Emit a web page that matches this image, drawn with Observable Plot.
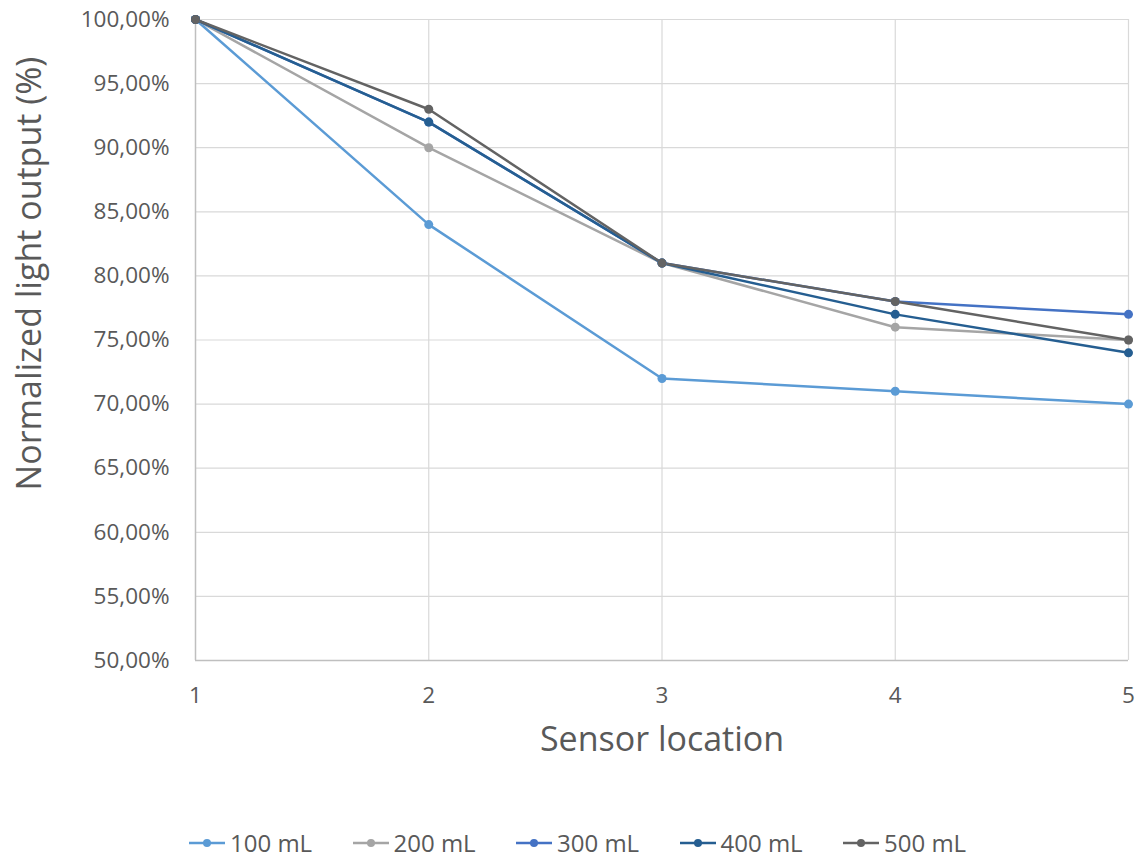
<!DOCTYPE html>
<html>
<head>
<meta charset="utf-8">
<script src="https://cdn.jsdelivr.net/npm/d3@7"></script>
<script src="https://cdn.jsdelivr.net/npm/@observablehq/plot@0.6"></script>
<style>
  html, body { margin: 0; padding: 0; background: #fff; }
  body { width: 1142px; height: 859px; overflow: hidden; font-family: "Open Sans", sans-serif; position: relative; }
  #chart svg { display: block; }
  #legend { position: absolute; left: 0; top: 829px; width: 1142px; height: 28px; font-size: 24px; line-height: 28px; color: #595959; }
  #legend .item { position: absolute; top: 0; height: 28px; display: flex; align-items: center; gap: 5px; white-space: nowrap; }
</style>
</head>
<body>
<div id="chart"></div>
<div id="legend"></div>
<script>
const locations = [1, 2, 3, 4, 5];
const seriesNames = ["100 mL", "200 mL", "300 mL", "400 mL", "500 mL"];
const v100 = [1.00, 0.84, 0.72, 0.71, 0.70];
const v200 = [1.00, 0.90, 0.81, 0.76, 0.75];
const v300 = [1.00, 0.92, 0.81, 0.78, 0.77];
const v400 = [1.00, 0.92, 0.81, 0.77, 0.74];
const v500 = [1.00, 0.93, 0.81, 0.78, 0.75];
const colors = ["#5B9BD5", "#A5A5A5", "#4472C4", "#255E91", "#636363"];
const yTicks = [0.50, 0.55, 0.60, 0.65, 0.70, 0.75, 0.80, 0.85, 0.90, 0.95, 1.00];

const allValues = [v100, v200, v300, v400, v500];
const data = [];
seriesNames.forEach((s, i) => {
  locations.forEach((x, j) => data.push({series: s, x, y: allValues[i][j]}));
});

const fmt = d => (d * 100).toFixed(2).replace(".", ",") + "%";
const textColor = "#595959";

const chart = Plot.plot({
  width: 1142,
  height: 828,
  marginLeft: 195,
  marginRight: 14,
  marginTop: 19,
  marginBottom: 168,
  style: { fontFamily: "Open Sans, sans-serif", background: "#fff" },
  x: { domain: [1, 5] },
  y: { domain: [0.5, 1] },
  color: { domain: seriesNames, range: colors },
  marks: [
    Plot.gridY(yTicks, { stroke: "#d9d9d9", strokeOpacity: 1, strokeWidth: 1.2 }),
    Plot.gridX([2, 3, 4, 5], { stroke: "#d9d9d9", strokeOpacity: 1, strokeWidth: 1.2 }),
    Plot.ruleX([1], { stroke: "#bfbfbf", strokeWidth: 1.5 }),
    Plot.ruleY([0.5], { stroke: "#bfbfbf", strokeWidth: 1.5 }),
    Plot.axisY(yTicks, { tickSize: 0, tickPadding: 26, tickFormat: fmt, fontSize: 22.5, fill: textColor, label: null }),
    Plot.axisX(locations, { tickSize: 0, tickPadding: 27, tickFormat: d => String(d), fontSize: 22.5, fill: textColor, label: null }),
    Plot.text(["Normalized light output (%)"], { frameAnchor: "top-left", textAnchor: "middle", lineAnchor: "middle", dx: -165, dy: 254, rotate: -90, fontSize: 34, fill: textColor }),
    Plot.text(["Sensor location"], { frameAnchor: "bottom", textAnchor: "middle", lineAnchor: "middle", dy: 80, fontSize: 34, fill: textColor }),
    Plot.line(data, { x: "x", y: "y", z: "series", stroke: "series", strokeWidth: 2.5 }),
    Plot.dot(data, { x: "x", y: "y", fill: "series", r: 4.5 })
  ]
});
document.getElementById("chart").appendChild(chart);

const legend = document.getElementById("legend");
const legendStart = 189, legendStep = 163.5;
seriesNames.forEach((s, i) => {
  const item = document.createElement("div");
  item.className = "item";
  item.style.left = (legendStart + i * legendStep) + "px";
  item.innerHTML = `<svg width="36" height="14"><line x1="0" y1="7" x2="36" y2="7" stroke="${colors[i]}" stroke-width="2.5"/><circle cx="18" cy="7" r="4" fill="${colors[i]}"/></svg><span>${s}</span>`;
  legend.appendChild(item);
});
</script>
</body>
</html>
